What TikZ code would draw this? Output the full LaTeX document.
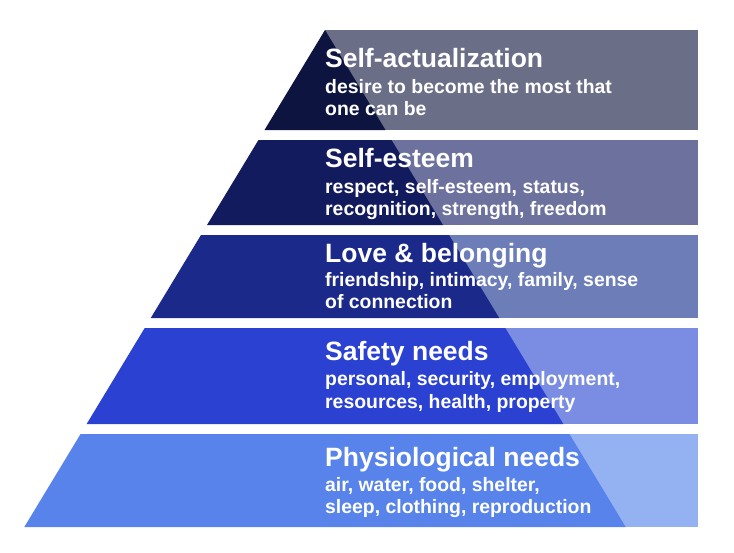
\documentclass[tikz,border=0pt]{standalone}
\usepackage{fontspec}
\setmainfont{Liberation Sans}
\definecolor{dA}{HTML}{0E1440}
\definecolor{lA}{HTML}{6B6E87}
\definecolor{dB}{HTML}{131B5F}
\definecolor{lB}{HTML}{6C719E}
\definecolor{dC}{HTML}{1B2A8A}
\definecolor{lC}{HTML}{6C7DB8}
\definecolor{dD}{HTML}{2B41D2}
\definecolor{lD}{HTML}{7A8DE2}
\definecolor{dE}{HTML}{5783EA}
\definecolor{lE}{HTML}{94B1F2}
\begin{document}
\begin{tikzpicture}[x=1pt,y=-1pt,
  titletext/.style={anchor=base west,inner sep=0pt,text=white,font=\bfseries\fontsize{26.5}{30}\selectfont},
  subtext/.style={anchor=base west,inner sep=0pt,text=white,font=\bfseries\fontsize{19.4}{22}\selectfont}]
\useasboundingbox[fill=white] (0,0) rectangle (734,552);
\foreach \yt/\yb/\dk/\lt in {30/130/dA/lA,140/225/dB/lB,235/318/dC/lC,328/424/dD/lD,434/527/dE/lE}{
  \fill[\lt] (325,\yt) rectangle (698,\yb);
  \fill[\dk] ({325-0.605*(\yt-30)},\yt) -- ({325+0.605*(\yt-30)},\yt) -- ({325+0.605*(\yb-30)},\yb) -- ({325-0.605*(\yb-30)},\yb) -- cycle;
}
\node[titletext] (t1) at (325,67) {Self-actualization};
\node[subtext] (t1a) at (325,93) {desire to become the most that};
\node[subtext] (t1b) at (325,115) {one can be};
\node[titletext] (t2) at (325,167) {Self-esteem};
\node[subtext] (t2a) at (325,193) {respect, self-esteem, status,};
\node[subtext] (t2b) at (325,215) {recognition, strength, freedom};
\node[titletext] (t3) at (325,262) {Love \& belonging};
\node[subtext] (t3a) at (325,286) {friendship, intimacy, family, sense};
\node[subtext] (t3b) at (325,308) {of connection};
\node[titletext] (t4) at (325,360) {Safety needs};
\node[subtext] (t4a) at (325,385) {personal, security, employment,};
\node[subtext] (t4b) at (325,408) {resources, health, property};
\node[titletext] (t5) at (325,466) {Physiological needs};
\node[subtext] (t5a) at (325,491) {air, water, food, shelter,};
\node[subtext] (t5b) at (325,513) {sleep, clothing, reproduction};
\end{tikzpicture}
\end{document}
